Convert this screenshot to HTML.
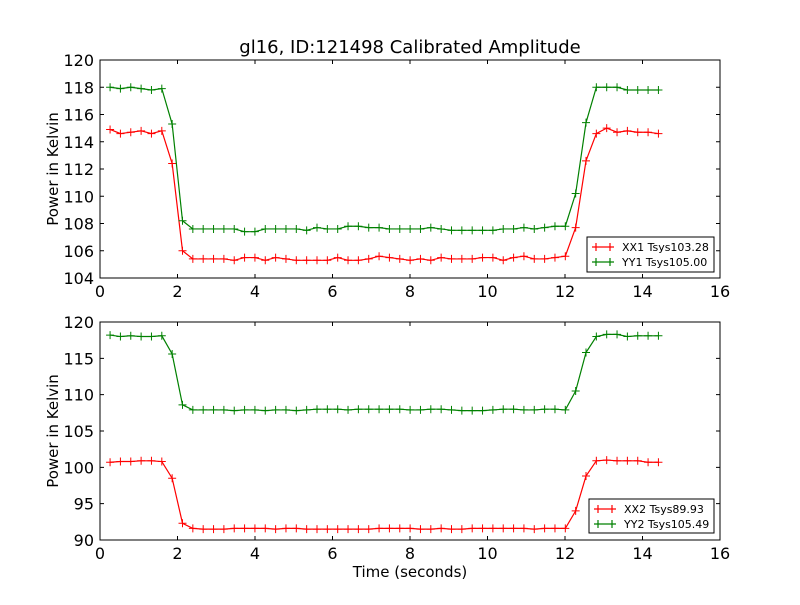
<!DOCTYPE html>
<html><head><meta charset="utf-8"><style>
body{margin:0;background:#fff}
svg text{font-family:"DejaVu Sans","Liberation Sans",sans-serif;}
</style></head><body>
<svg id="c" width="800" height="600" xmlns="http://www.w3.org/2000/svg"></svg>
<script>
const times = [];
for (let i = 0; i < 54; i++) times.push(0.26 + i * 0.267);
const xx1 = [114.9,114.6,114.7,114.8,114.6,114.8,112.4,106.0,105.4,105.4,105.4,105.4,105.3,105.5,105.5,105.3,105.5,105.4,105.3,105.3,105.3,105.3,105.5,105.3,105.3,105.4,105.6,105.5,105.4,105.3,105.4,105.3,105.5,105.4,105.4,105.4,105.5,105.5,105.3,105.5,105.6,105.4,105.4,105.5,105.6,107.7,112.6,114.6,115.0,114.7,114.8,114.7,114.7,114.6];
const yy1 = [118.0,117.9,118.0,117.9,117.8,117.9,115.3,108.2,107.6,107.6,107.6,107.6,107.6,107.4,107.4,107.6,107.6,107.6,107.6,107.5,107.7,107.6,107.6,107.8,107.8,107.7,107.7,107.6,107.6,107.6,107.6,107.7,107.6,107.5,107.5,107.5,107.5,107.5,107.6,107.6,107.7,107.6,107.7,107.8,107.8,110.2,115.4,118.0,118.0,118.0,117.8,117.8,117.8,117.8];
const xx2 = [100.7,100.8,100.8,100.9,100.9,100.8,98.5,92.3,91.6,91.5,91.5,91.5,91.6,91.6,91.6,91.6,91.5,91.6,91.6,91.5,91.5,91.5,91.5,91.5,91.5,91.5,91.6,91.6,91.6,91.6,91.5,91.5,91.6,91.5,91.5,91.6,91.6,91.6,91.6,91.6,91.6,91.5,91.6,91.6,91.6,94.0,98.8,100.9,101.0,100.9,100.9,100.9,100.7,100.7];
const yy2 = [118.2,118.0,118.1,118.0,118.0,118.1,115.6,108.6,107.9,107.9,107.9,107.9,107.8,107.9,107.9,107.8,107.9,107.9,107.8,107.9,108.0,108.0,108.0,107.9,108.0,108.0,108.0,108.0,108.0,107.9,107.9,108.0,108.0,107.9,107.8,107.8,107.8,107.9,108.0,108.0,107.9,107.9,108.0,108.0,107.9,110.5,115.8,118.0,118.3,118.3,118.0,118.1,118.1,118.1];
const xTicks = [0,2,4,6,8,10,12,14,16];
const yTicks1 = [104,106,108,110,112,114,116,118,120];
const yTicks2 = [90,95,100,105,110,115,120];
const legend1 = ["XX1 Tsys103.28","YY1 Tsys105.00"];
const legend2 = ["XX2 Tsys89.93","YY2 Tsys105.49"];

const NS="http://www.w3.org/2000/svg";
const svg=document.getElementById('c');
function mk(tag,attrs,parent){const e=document.createElementNS(NS,tag);for(const k in attrs)e.setAttribute(k,attrs[k]);(parent||svg).appendChild(e);return e;}
function txt(s,x,y,size,anchor,parent){const t=mk('text',{x:x,y:y,'font-size':size,'text-anchor':anchor,fill:'#000'},parent);t.textContent=s;return t;}

function panel(top,bot,ymin,ymax,yTicks,series,legend,lgBox,name,showXLabel){
  const L=100,R=720;
  const g=mk('g',{});
  
  
  const sx=v=>L+(v-0)/16*(R-L);
  const sy=v=>bot-(v-ymin)/(ymax-ymin)*(bot-top);
  mk('rect',{x:L,y:top,width:R-L,height:bot-top,fill:'#fff',stroke:'none'},g);
  series.forEach(s=>{
    const sg=mk('g',{},g);
    
    
    mk('polyline',{points:times.map((t,i)=>sx(t)+','+sy(s.v[i])).join(' '),fill:'none',stroke:s.c,'stroke-width':1.2},sg);
    times.forEach((t,i)=>{const x=sx(t),y=sy(s.v[i]);
      mk('path',{d:`M${x-4},${y}H${x+4}M${x},${y-4}V${y+4}`,stroke:s.c,'stroke-width':1},sg);});
  });
  mk('rect',{x:L,y:top,width:R-L,height:bot-top,fill:'none',stroke:'#000','stroke-width':1},g);
  xTicks.forEach(v=>{const x=sx(v);
    mk('path',{d:`M${x},${bot}v-4M${x},${top}v4`,stroke:'#000'},g);
    const t=txt(String(v),x,bot+19,16,'middle',g);
    });
  yTicks.forEach(v=>{const y=sy(v);
    mk('path',{d:`M${L},${y}h4M${R},${y}h-4`,stroke:'#000'},g);
    const t=txt(String(v),L-6,y+6,16,'end',g);
    });
  const yl=txt('Power in Kelvin',0,0,15,'middle',g);
  yl.setAttribute('transform',`translate(58,${(top+bot)/2}) rotate(-90)`);
  
  const lg=mk('g',{},g);
  
  mk('rect',{x:lgBox[0],y:lgBox[1],width:lgBox[2],height:lgBox[3],fill:'#fff',stroke:'#000','stroke-width':1},lg);
  legend.forEach((s,i)=>{const y=lgBox[1]+10+i*15,x0=lgBox[0]+5,c=series[i].c;
    mk('path',{d:`M${x0},${y}H${x0+22}M${x0+4},${y-4}V${y+4}M${x0+18},${y-4}V${y+4}`,stroke:c,'stroke-width':1.2},lg);
    txt(s,x0+30,y+4,11,'start',lg);});
}
const title=txt('gl16, ID:121498 Calibrated Amplitude',410,53,18,'middle');

panel(60,278,104,120,yTicks1,[{name:'series-xx1',v:xx1,c:'#ff0000'},{name:'series-yy1',v:yy1,c:'#008000'}],legend1,[587,237,127,35],'top-panel');
panel(322,540,90,120,yTicks2,[{name:'series-xx2',v:xx2,c:'#ff0000'},{name:'series-yy2',v:yy2,c:'#008000'}],legend2,[589,499,125,34],'bottom-panel');
const xl=txt('Time (seconds)',410,577,15,'middle');

</script>
</body></html>
